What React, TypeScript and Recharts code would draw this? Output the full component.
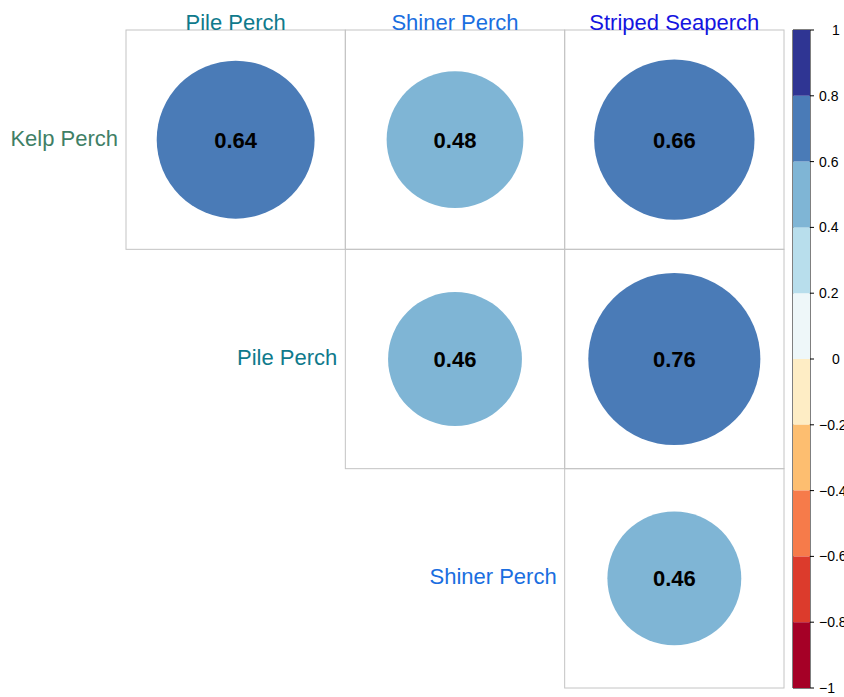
import React from "react";
import { Bar, BarChart, ReferenceArea, Scatter, ScatterChart, XAxis, YAxis } from "recharts";

const colNames = ["Pile Perch", "Shiner Perch", "Striped Seaperch"];
const rowNames = ["Kelp Perch", "Pile Perch", "Shiner Perch"];
const colColors = ["#0f7a8c", "#1a6ee0", "#1414e0"];
const rowColors = ["#3f7f66", "#0f7a8c", "#1a6ee0"];

// upper triangle, row-major: Kelp x (Pile, Shiner, Striped), Pile x (Shiner, Striped), Shiner x Striped
const cellRows = [1, 1, 1, 2, 2, 3];
const cellCols = [1, 2, 3, 2, 3, 3];
const cellValues = [0.64, 0.48, 0.66, 0.46, 0.76, 0.46];

// colour bins from -1 to 1, step 0.2
const binEdges = [-1, -0.8, -0.6, -0.4, -0.2, 0, 0.2, 0.4, 0.6, 0.8, 1];
const binColors = ["#a50026", "#dc3b2c", "#f67b4a", "#fdbe70", "#feedc5", "#eef7f9", "#b8deec", "#7fb5d5", "#4a7bb7", "#2f3593"];
const legendTicks = [-1, -0.8, -0.6, -0.4, -0.2, 0, 0.2, 0.4, 0.6, 0.8, 1];

const W = 844;
const H = 697;
const M = { top: 0, right: 60, bottom: 9, left: 126 };
const AXIS_H = 30;
const CELL = (W - M.left - M.right) / 3;
const FONT = "'Liberation Sans', Arial, Helvetica, sans-serif";

const cells = cellValues.map((v, i) => ({ row: cellRows[i], col: cellCols[i], value: v }));
const rowLabels = rowNames.map((name, i) => ({ row: i + 1, col: i + 1, name }));
const bins = binColors.map((color, i) => ({ key: `b${i}`, lo: binEdges[i], hi: binEdges[i + 1], color }));
// one stacked column: each bin is a 0.2 slice, negative ones stack downwards from 0
const legendRow: Record<string, number | string> = { name: "legend" };
bins.forEach((b) => { legendRow[b.key] = +(b.hi - b.lo).toFixed(2) * (b.hi > 0 ? 1 : -1); });
const stackOrder = [...bins].sort((a, b) => Math.abs(a.lo + a.hi) - Math.abs(b.lo + b.hi));

function colorFor(v: number) {
  const i = Math.min(bins.length - 1, Math.max(0, Math.floor((v + 1) / 0.2)));
  return bins[i].color;
}

function CellShape(props: any) {
  const { cx, cy, payload } = props;
  const half = CELL / 2;
  const r = 0.9 * half * Math.sqrt(Math.abs(payload.value));
  return (
    <g>
      <rect x={cx - half} y={cy - half} width={CELL} height={CELL} fill="none" stroke="#c4c4c4" strokeWidth={1} />
      <circle cx={cx} cy={cy} r={r} fill={colorFor(payload.value)} />
      <text x={cx} y={cy} dy="0.36em" textAnchor="middle" fontFamily={FONT} fontSize={22} fontWeight="bold" fill="#000">
        {payload.value.toFixed(2)}
      </text>
    </g>
  );
}

function RowLabel(props: any) {
  const { cx, cy, payload } = props;
  return (
    <text x={cx - CELL / 2 - 8} y={cy} dy="0.28em" textAnchor="end" fontFamily={FONT} fontSize={22} fill={rowColors[payload.row - 1]}>
      {payload.name}
    </text>
  );
}

function ColTick(props: any) {
  const { x, y, payload } = props;
  const i = payload.value - 1;
  return (
    <text x={x} y={y} textAnchor="middle" fontFamily={FONT} fontSize={22} fill={colColors[i]}>
      {colNames[i]}
    </text>
  );
}

function LegendTick(props: any) {
  const { x, y, payload } = props;
  const v = payload.value as number;
  const label = v < 0 ? "\u2212" + String(Math.abs(v)) : String(v);
  return (
    <text x={x + 3 + (label.length === 1 ? 13 : 0)} y={y} dy="0.36em" textAnchor="start" fontFamily={FONT} fontSize={14} fill="#000">
      {label}
    </text>
  );
}

export default function App() {
  return (
    <div style={{ position: "absolute", left: 0, top: 0, width: W, height: H, background: "#fff", overflow: "hidden" }}>
      <div style={{ position: "absolute", left: 0, top: 0 }}>
        <ScatterChart width={W} height={H} margin={M}>
          <XAxis dataKey="col" type="number" domain={[0.5, 3.5]} ticks={[1, 2, 3]} orientation="top" height={AXIS_H}
            axisLine={false} tickLine={false} tickSize={0} tickMargin={0} tick={<ColTick />} interval={0} />
          <YAxis dataKey="row" type="number" domain={[0.5, 3.5]} reversed hide />
          <Scatter data={cells} shape={<CellShape />} isAnimationActive={false} />
          <Scatter data={rowLabels} shape={<RowLabel />} isAnimationActive={false} />
        </ScatterChart>
      </div>
      <div style={{ position: "absolute", left: 784, top: 0 }}>
        <BarChart width={70} height={H} data={[legendRow]} stackOffset="sign" barCategoryGap={0} barGap={0}
          margin={{ top: 30, right: 10, bottom: 9, left: 9 }}>
          <XAxis dataKey="name" type="category" hide />
          <YAxis type="number" orientation="right" domain={[-1, 1]} ticks={legendTicks} width={34} interval={0}
            axisLine={false} tickLine={{ stroke: "#000" }} tickSize={4} tickMargin={2} tick={<LegendTick />} />
          {stackOrder.map((b) => (
            <Bar key={b.key} dataKey={b.key} stackId="legend" fill={b.color} isAnimationActive={false} />
          ))}
          <ReferenceArea y1={-1} y2={1} fill="none" stroke="#000" strokeWidth={1} ifOverflow="visible" />
        </BarChart>
      </div>
    </div>
  );
}
